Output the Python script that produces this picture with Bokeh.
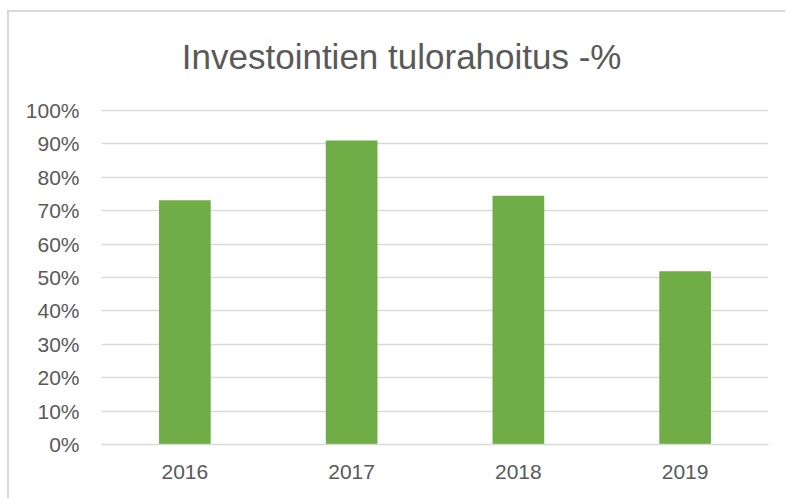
from bokeh.plotting import figure
from bokeh.models import Range1d, NumeralTickFormatter, FixedTicker, Label
from bokeh.embed import file_html
from bokeh.resources import INLINE

years = ["2016", "2017", "2018", "2019"]
values = [0.731, 0.910, 0.745, 0.519]
y_ticks = [0, 0.1, 0.2, 0.3, 0.4, 0.5, 0.6, 0.7, 0.8, 0.9, 1.0]
title_text = "Investointien tulorahoitus -%"

FONT = "Liberation Sans"
GRAY = "#595959"

# extra headroom above 100% holds the title inside the frame
p = figure(x_range=years, y_range=Range1d(0, 1.2485), width=778, height=488,
           output_backend="svg", toolbar_location=None,
           min_border_left=92, min_border_right=19, min_border_top=15, min_border_bottom=56)

p.vbar(x=years, top=values, width=0.31, fill_color="#70AD47", line_color=None)

p.add_layout(Label(x=1.80, y=1.163, text=title_text, text_align="center",
                   text_baseline="middle", text_font=FONT, text_font_size="35px",
                   text_color=GRAY))

p.yaxis.ticker = FixedTicker(ticks=y_ticks)
p.yaxis.formatter = NumeralTickFormatter(format="0%")
p.yaxis.axis_line_color = None
p.yaxis.major_tick_line_color = None
p.yaxis.minor_tick_line_color = None
p.yaxis.major_label_text_font = FONT
p.yaxis.major_label_text_font_size = "21px"
p.yaxis.major_label_text_color = GRAY
p.yaxis.major_label_standoff = 16

p.xaxis.axis_line_color = "#d9d9d9"
p.xaxis.axis_line_width = 1.5
p.xaxis.major_tick_line_color = None
p.xaxis.minor_tick_line_color = None
p.xaxis.major_label_text_font = FONT
p.xaxis.major_label_text_font_size = "21px"
p.xaxis.major_label_text_color = GRAY
p.xaxis.major_label_standoff = 14

p.xgrid.grid_line_color = None
p.ygrid.grid_line_color = "#d9d9d9"
p.ygrid.grid_line_width = 1.5
p.outline_line_color = None
p.x_range.range_padding = 0
p.styles = {"border-left": "2px solid #d9d9d9", "border-top": "2px solid #d9d9d9",
            "margin": "10px 0 0 7px"}

open("out.html", "w").write(file_html(p, INLINE))
